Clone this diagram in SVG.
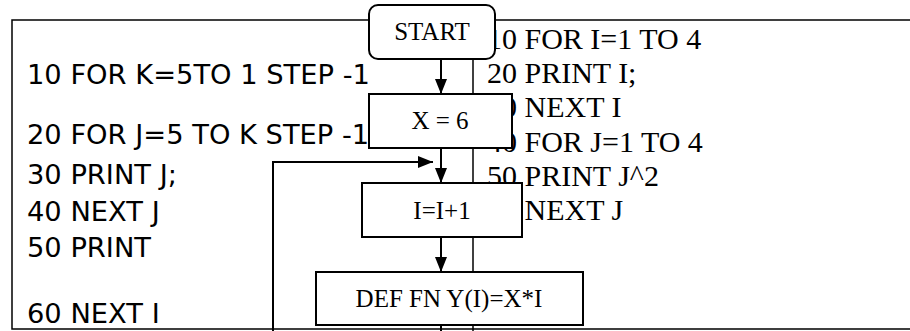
<svg xmlns="http://www.w3.org/2000/svg" width="910" height="331" viewBox="0 0 910 331">
<style>
.tl{font-family:"DejaVu Sans",Verdana,sans-serif;font-size:27.3px;fill:#000}
.tr{font-family:"Liberation Serif","Times New Roman",serif;font-size:30px;fill:#000}
.tb{font-family:"Liberation Serif","Times New Roman",serif;font-size:25px;fill:#000;text-anchor:middle}
.grid{stroke:#000;stroke-width:1.5;fill:none}
.box{fill:#fff;stroke:#000;stroke-width:2}
.ln{stroke:#000;stroke-width:2;fill:none}
</style>
<defs>
<marker id="ah" markerWidth="15" markerHeight="12" refX="15" refY="6" orient="auto" markerUnits="userSpaceOnUse" viewBox="0 0 15 12">
<path d="M0,0 L15,6 L0,12 Z" fill="#000"/>
</marker>
</defs>
<g id="table">
<path class="grid" d="M910,20 H12 V329 H910"/>
<line class="grid" x1="473" y1="20" x2="473" y2="331"/>
</g>
<g id="left-code">
<text class="tl" x="27" y="84">10 FOR K=5TO 1 STEP -1</text>
<text class="tl" x="27" y="144">20 FOR J=5 TO K STEP -1</text>
<text class="tl" x="27" y="184">30 PRINT J;</text>
<text class="tl" x="27" y="221">40 NEXT J</text>
<text class="tl" x="27" y="257">50 PRINT</text>
<text class="tl" x="27" y="323">60 NEXT I</text>
</g>
<g id="right-code">
<text class="tr" x="487" y="49">10 FOR I=1 TO 4</text>
<text class="tr" x="487" y="83">20 PRINT I;</text>
<text class="tr" x="487" y="117">30 NEXT I</text>
<text class="tr" x="487" y="152">40 FOR J=1 TO 4</text>
<text class="tr" x="487" y="186">50 PRINT J^2</text>
<text class="tr" x="487" y="220">60 NEXT J</text>
</g>
<g id="connectors">
<line class="ln" x1="441" y1="59" x2="441" y2="94" marker-end="url(#ah)"/>
<line class="ln" x1="441" y1="148" x2="441" y2="183" marker-end="url(#ah)"/>
<line class="ln" x1="441" y1="237" x2="441" y2="272" marker-end="url(#ah)"/>
<line class="ln" x1="441" y1="325" x2="441" y2="331"/>
<path class="ln" d="M273,331 V162 H433" marker-end="url(#ah)"/>
</g>
<g id="start">
<rect class="box" x="369" y="5" width="126" height="54" rx="9"/>
<text class="tb" x="432" y="40">START</text>
</g>
<g id="x6">
<rect class="box" x="369" y="94" width="143" height="54"/>
<text class="tb" x="440" y="129">X = 6</text>
</g>
<g id="inc">
<rect class="box" x="362" y="183" width="160" height="54"/>
<text class="tb" x="442" y="219">I=I+1</text>
</g>
<g id="deffn">
<rect class="box" x="316" y="272" width="267" height="53"/>
<text class="tb" x="449" y="307">DEF FN Y(I)=X*I</text>
</g>
</svg>
